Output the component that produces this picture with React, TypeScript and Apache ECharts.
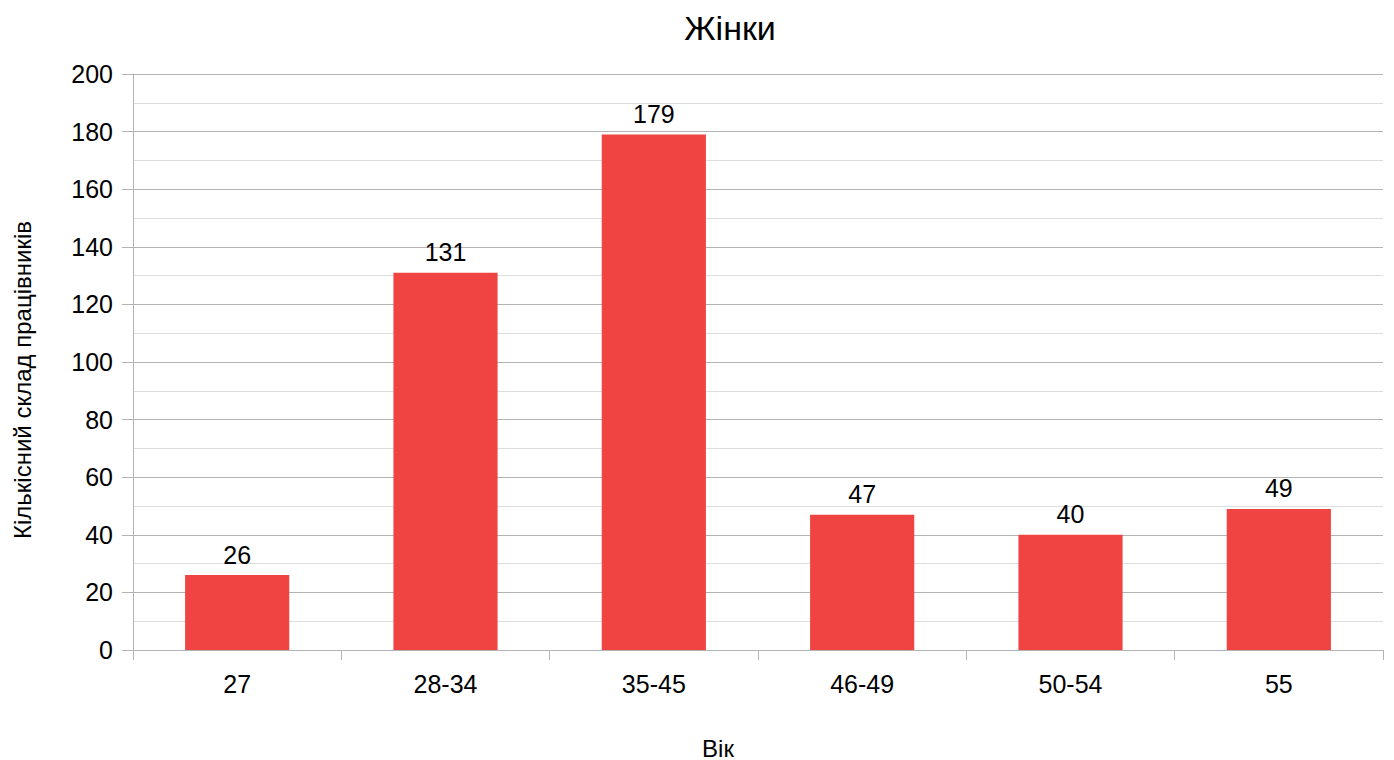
import React, { useEffect, useRef } from "react";
import * as echarts from "echarts";

const categories = ["27", "28-34", "35-45", "46-49", "50-54", "55"];
const values = [26, 131, 179, 47, 40, 49];
const titleText = "Жінки";
const xName = "Вік";
const yName = "Кількісний склад працівників";

export default function App() {
  const ref = useRef<HTMLDivElement>(null);
  useEffect(() => {
    document.body.style.margin = "0";
    const chart = echarts.init(ref.current!, null, { renderer: "svg" });
    const font = "'Liberation Sans', Arial, sans-serif";
    chart.setOption({
      animation: false,
      backgroundColor: "#ffffff",
      textStyle: { fontFamily: font },
      title: {
        text: titleText,
        left: 725,
        top: 6,
        textAlign: "center",
        textStyle: { fontFamily: font, fontSize: 34, fontWeight: "normal", color: "#000" },
      },
      grid: { left: 133, right: 11, top: 74, bottom: 110, containLabel: false },
      xAxis: {
        type: "category",
        data: categories,
        axisLine: { show: true, lineStyle: { color: "#b3b3b3" } },
        axisTick: { show: true, length: 10, lineStyle: { color: "#b3b3b3" } },
        axisLabel: { color: "#000", fontSize: 25, margin: 21, fontFamily: font },
      },
      yAxis: {
        type: "value",
        min: 0,
        max: 200,
        interval: 20,
        axisLine: { show: true, lineStyle: { color: "#b3b3b3" } },
        axisTick: { show: true, length: 11, lineStyle: { color: "#b3b3b3" } },
        axisLabel: { color: "#000", fontSize: 25, margin: 20, fontFamily: font },
        splitLine: { show: true, lineStyle: { color: "#b3b3b3", width: 1 } },
        minorTick: { show: false, splitNumber: 2 },
        minorSplitLine: { show: true, lineStyle: { color: "#dddddd", width: 1 } },
      },
      graphic: [
        {
          type: "text",
          x: 718,
          y: 748,
          style: { text: xName, fontSize: 24, fontFamily: font, fill: "#000", align: "center", verticalAlign: "middle" },
        },
        {
          type: "text",
          x: 22,
          y: 380,
          rotation: Math.PI / 2,
          style: { text: yName, fontSize: 24, fontFamily: font, fill: "#000", align: "center", verticalAlign: "middle" },
        },
      ],
      series: [
        {
          type: "bar",
          data: values,
          barWidth: "50%",
          itemStyle: { color: "#ef4441" },
          label: { show: true, position: "top", distance: 8, color: "#000", fontSize: 25, fontFamily: font },
        },
      ],
    });
    return () => chart.dispose();
  }, []);
  return <div ref={ref} style={{ width: 1394, height: 760 }} />;
}
